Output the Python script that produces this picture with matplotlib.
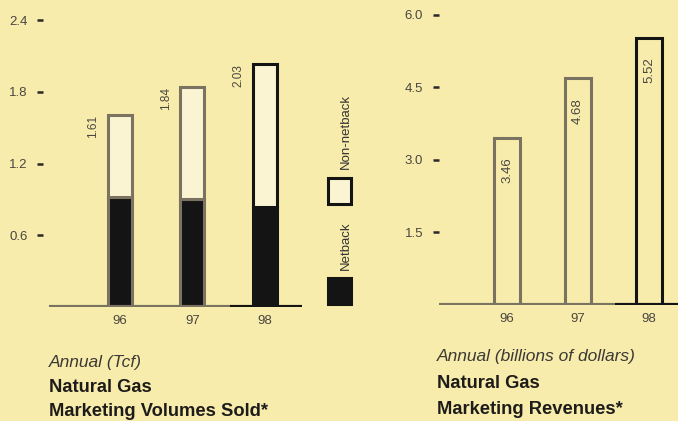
import matplotlib

matplotlib.use("Agg")

import matplotlib.pyplot as plt
import numpy as np
from matplotlib.patches import Rectangle

# data
years = ["96", "97", "98"]
volume_total = [1.61, 1.84, 2.03]
volume_netback = [0.92, 0.90, 0.84]
revenues = [3.46, 4.68, 5.52]
volume_ticks = [0.6, 1.2, 1.8, 2.4]
revenue_ticks = [1.5, 3.0, 4.5, 6.0]

BG = "#f7ecab"
LIGHT = "#fbf4d2"
GREY = "#7b7361"
BLACK = "#141414"
TEXT = "#4a4640"
DARK = "#1e1c1a"
edge_colors = [GREY, GREY, BLACK]

plt.rcParams["font.family"] = ["Liberation Sans", "DejaVu Sans"]

W, H = 678, 421
fig = plt.figure(figsize=(W / 100, H / 100), dpi=100, facecolor=BG)


def px_axes(left, right, top, bottom):
    return fig.add_axes([left / W, 1 - bottom / H, (right - left) / W, (bottom - top) / H])


def style_axes(ax, ticks, tick_pad):
    ax.set_facecolor("none")
    for side in ax.spines.values():
        side.set_visible(False)
    ax.set_yticks(ticks)
    ax.set_yticklabels([f"{t:.1f}" for t in ticks])
    ax.tick_params(axis="y", direction="out", length=4.5, width=1.8,
                   color="#2a2826", pad=tick_pad, labelsize=9.5, labelcolor=TEXT)
    ax.set_xticks(np.arange(len(years)))
    ax.set_xticklabels(years)
    ax.tick_params(axis="x", length=0, pad=6, labelsize=9.5, labelcolor=TEXT)


x = np.arange(len(years))

# ---- left: volumes sold ----
ax1 = px_axes(43, 302, 5, 307)
ax1.set_xlim(-1.06, 2.51)
ax1.set_ylim(0, 302 / 119.5)
style_axes(ax1, volume_ticks, 6.5)

non_netback = np.array(volume_total) - np.array(volume_netback)
ax1.bar(x, volume_netback, width=0.33, color=BLACK, edgecolor=edge_colors,
        linewidth=2.2, zorder=2)
ax1.bar(x, non_netback, bottom=volume_netback, width=0.33, color=LIGHT,
        edgecolor=edge_colors, linewidth=2.2, zorder=2)
ax1.hlines(0, -0.98, 1.52, color=GREY, linewidth=3, zorder=3)
ax1.hlines(0, 1.52, 2.51, color=BLACK, linewidth=3, zorder=3)
for xi, v in zip(x, volume_total):
    ax1.annotate(f"{v:.2f}", (xi, v), xytext=(-19, 0), textcoords="offset points",
                 rotation=90, ha="center", va="top", fontsize=8.5, color=TEXT)

# ---- right: revenues ----
ax2 = px_axes(439, 678, 5, 305)
ax2.set_xlim(-0.96, 2.41)
ax2.set_ylim(0, 300 / 48.4)
style_axes(ax2, revenue_ticks, 7)

ax2.bar(x, revenues, width=0.37, color="none", edgecolor=edge_colors,
        linewidth=2.2, zorder=2)
ax2.hlines(0, -1.0, 1.52, color=GREY, linewidth=3, zorder=3)
ax2.hlines(0, 1.52, 2.41, color=BLACK, linewidth=3, zorder=3)
for xi, v in zip(x, revenues):
    ax2.annotate(f"{v:.2f}", (xi, v), xytext=(0, -14), textcoords="offset points",
                 rotation=90, ha="center", va="top", fontsize=9.5, color=TEXT)

# ---- legend ----
fig.add_artist(Rectangle((328 / W, 1 - 204 / H), 23 / W, 26 / H, transform=fig.transFigure,
                         facecolor=LIGHT, edgecolor=BLACK, linewidth=2.2))
fig.add_artist(Rectangle((328 / W, 1 - 304 / H), 23 / W, 26 / H, transform=fig.transFigure,
                         facecolor=BLACK, edgecolor=BLACK, linewidth=2.2))
fig.text(346 / W, 1 - 169 / H, "Non-netback", rotation=90, ha="center", va="bottom",
         fontsize=9.5, color="#333")
fig.text(346 / W, 1 - 270 / H, "Netback", rotation=90, ha="center", va="bottom",
         fontsize=9.5, color="#333")

# ---- captions ----
captions = [
    (49, (362, 387, 412), "Annual (Tcf)", "Marketing Volumes Sold*"),
    (437, (357, 383, 410), "Annual (billions of dollars)", "Marketing Revenues*"),
]
for x0, (y_unit, y_title, y_name), unit, name in captions:
    fig.text(x0 / W, 1 - y_unit / H, unit, style="italic", fontsize=12.5,
             color="#3c3935", va="center")
    fig.text(x0 / W, 1 - y_title / H, "Natural Gas", weight="bold", fontsize=13.2,
             color=DARK, va="center")
    fig.text(x0 / W, 1 - y_name / H, name, weight="bold", fontsize=13.2,
             color=DARK, va="center")

fig.savefig("out.png", dpi=100, facecolor=BG)
